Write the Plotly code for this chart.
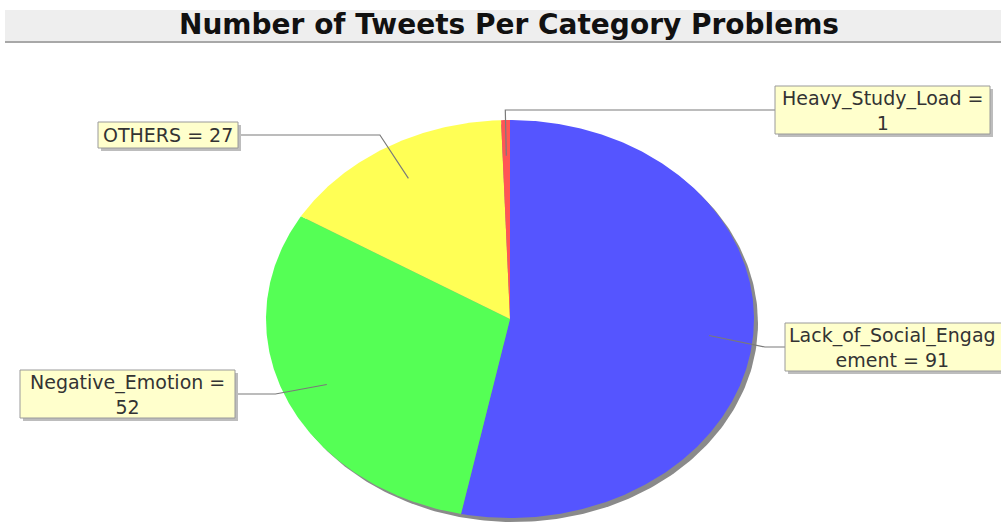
import textwrap
import numpy as np
import plotly.graph_objects as go

# ---- data ----
categories = ["Lack_of_Social_Engagement", "Negative_Emotion", "OTHERS", "Heavy_Study_Load"]
values = [91, 52, 27, 1]
title_text = "Number of Tweets Per Category Problems"

# ---- style / layout ----
colors = ["#5555FF", "#55FF55", "#FFFF55", "#FF5555"]
wrap_widths = [20, 19, 19, 19]
# label box (x0, y0, x1, y1) in page pixels
label_boxes = [(785, 323, 1012, 371), (20, 370, 235, 418), (98, 122, 238, 148), (775, 86, 990, 134)]
W, H = 1001, 524
cx, cy, rx, ry = 510, 319, 244, 199

fig = go.Figure()

def ellipse_pt(theta_deg, k=1.0):
    t = np.radians(theta_deg)
    return cx + k * rx * np.cos(t), cy - k * ry * np.sin(t)

# shadow
tt = np.linspace(0, 360, 361)
sx, sy = ellipse_pt(tt)
fig.add_trace(go.Scatter(x=sx + 4, y=sy + 4, fill="toself", fillcolor="#8a8a8a",
                         line=dict(width=0), mode="lines", hoverinfo="skip", showlegend=False))

total = sum(values)
start = 90.0
mids = []
for cat, val, col in zip(categories, values, colors):
    ext = 360.0 * val / total
    end = start - ext
    n = max(4, int(ext * 2))
    th = np.linspace(start, end, n)
    px, py = ellipse_pt(th)
    xs = np.concatenate([[cx], px, [cx]])
    ys = np.concatenate([[cy], py, [cy]])
    fig.add_trace(go.Scatter(x=xs, y=ys, fill="toself", fillcolor=col, line=dict(width=0),
                             mode="lines", name=cat, hoverinfo="name", showlegend=False))
    mids.append((start + end) / 2)
    start = end

shapes = []
annotations = []
# title band
shapes.append(dict(type="rect", xref="x", yref="y", x0=5, x1=W, y0=10, y1=41,
                   fillcolor="#EEEEEE", line=dict(width=0), layer="below"))
shapes.append(dict(type="line", xref="x", yref="y", x0=5, x1=W, y0=42, y1=42,
                   line=dict(color="#A8A8A8", width=2)))
annotations.append(dict(x=509, y=24, xref="x", yref="y", text="<b>" + title_text + "</b>",
                        showarrow=False, font=dict(family="DejaVu Sans", size=28, color="#111111")))

for cat, val, mid, box, ww in zip(categories, values, mids, label_boxes, wrap_widths):
    x0, y0, x1, y1 = box
    ym = (y0 + y1) / 2
    ax, ay = ellipse_pt(mid, 0.82)
    ex, _ = ellipse_pt(mid, 1.05)
    bx = x0 if ex < x0 else x1
    shapes.append(dict(type="path", xref="x", yref="y",
                       path=f"M {ax:.1f} {ay:.1f} L {ex:.1f} {ym:.1f} L {bx:.1f} {ym:.1f}",
                       line=dict(color="#7a7a7a", width=1.2)))
    shapes.append(dict(type="rect", xref="x", yref="y", x0=x0 + 3, x1=x1 + 3, y0=y0 + 3, y1=y1 + 3,
                       fillcolor="#BDBDBD", line=dict(width=0)))
    shapes.append(dict(type="rect", xref="x", yref="y", x0=x0, x1=x1, y0=y0, y1=y1,
                       fillcolor="#FFFFCC", line=dict(color="#9a9a9a", width=1)))
    lines = textwrap.wrap(f"{cat} = {val}", width=ww)
    annotations.append(dict(x=(x0 + x1) / 2 if x1 <= W else x0 + 107, y=ym, xref="x", yref="y",
                            text="<br>".join(lines), showarrow=False, align="center",
                            font=dict(family="DejaVu Sans", size=19, color="#333333")))

fig.update_layout(
    width=W, height=H, margin=dict(l=0, r=0, t=0, b=0),
    paper_bgcolor="white", plot_bgcolor="white",
    xaxis=dict(range=[0, W], visible=False, fixedrange=True),
    yaxis=dict(range=[H, 0], visible=False, fixedrange=True),
    shapes=shapes, annotations=annotations, showlegend=False,
)
fig.write_html("out.html")
